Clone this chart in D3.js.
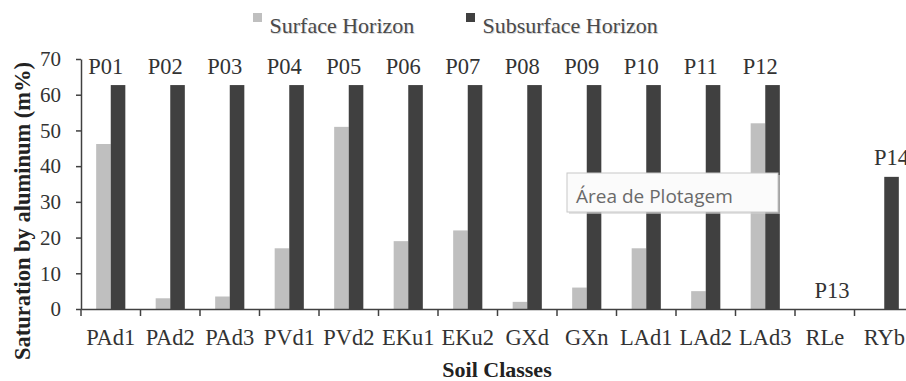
<!DOCTYPE html>
<html>
<head>
<meta charset="utf-8">
<script src="https://cdn.jsdelivr.net/npm/d3@7"></script>
<style>
  html, body { margin: 0; padding: 0; background: #fff; }
  #chart { width: 906px; height: 381px; overflow: hidden; }
</style>
</head>
<body>
<div id="chart"></div>
<script>
// 土壤类别与两层位铝饱和度 (m%)
const CLASSES = ["PAd1", "PAd2", "PAd3", "PVd1", "PVd2", "EKu1", "EKu2", "GXd", "GXn", "LAd1", "LAd2", "LAd3", "RLe", "RYb"];
const PROFILES = ["P01", "P02", "P03", "P04", "P05", "P06", "P07", "P08", "P09", "P10", "P11", "P12", "P13", "P14"];
const SURFACE = [46.2, 3, 3.5, 17, 51, 19, 22, 2, 6, 17, 5, 52, 0, 0];
const SUBSURFACE = [62.7, 62.7, 62.7, 62.7, 62.7, 62.7, 62.7, 62.7, 62.7, 62.7, 62.7, 62.7, 0, 37];
const Y_TICKS = [0, 10, 20, 30, 40, 50, 60, 70];
const SERIES = ["Surface Horizon", "Subsurface Horizon"];

const W = 906, H = 381;
const m = { l: 81, t: 59, b: 72 };
const plotRight = 914;           // 图区比窗口宽，右端被裁掉
const LIGHT = "#bfbfbf", DARK = "#404040", AXIS = "#404040";
const SERIF = "'Liberation Serif', 'Times New Roman', Tinos, serif";

const svg = d3.select("#chart").append("svg")
  .attr("width", W).attr("height", H).attr("viewBox", `0 0 ${W} ${H}`);

const x = d3.scaleBand().domain(CLASSES).range([m.l, plotRight]).paddingInner(0).paddingOuter(0);
const y = d3.scaleLinear().domain([0, 70]).range([H - m.b, m.t]);
const barW = x.bandwidth() * 0.245;

// 柱
const g = svg.append("g");
CLASSES.forEach((c, i) => {
  const cx = x(c) + x.bandwidth() / 2;
  g.append("rect").attr("x", cx - barW).attr("width", barW)
    .attr("y", y(SURFACE[i])).attr("height", y(0) - y(SURFACE[i])).attr("fill", LIGHT);
  g.append("rect").attr("x", cx).attr("width", barW)
    .attr("y", y(SUBSURFACE[i])).attr("height", y(0) - y(SUBSURFACE[i])).attr("fill", DARK);
  // 剖面编号
  const dx = SUBSURFACE[i] > 50 ? -5 : barW / 2;
  svg.append("text").style("font-family", SERIF).attr("x", cx + dx).attr("y", y(SUBSURFACE[i]) - 11.5)
    .attr("text-anchor", "middle").attr("font-size", 22.5)
    .attr("fill", "#333").text(PROFILES[i]);
});

// y 轴
const yAxis = svg.append("g").attr("transform", `translate(${m.l},0)`)
  .call(d3.axisLeft(y).tickValues(Y_TICKS).tickSize(5).tickPadding(15).tickSizeOuter(0));
yAxis.select(".domain").attr("stroke", AXIS).attr("stroke-width", 1.5);
yAxis.selectAll(".tick line").attr("stroke", AXIS).attr("stroke-width", 1.5);
yAxis.selectAll(".tick text").style("font-family", SERIF).attr("font-size", 21).attr("fill", "#333");

// x 轴
const xAxis = svg.append("g").attr("transform", `translate(0,${y(0)})`)
  .call(d3.axisBottom(x).tickSize(0).tickPadding(20).tickSizeOuter(0));
xAxis.select(".domain").attr("stroke", AXIS).attr("stroke-width", 1.5);
xAxis.selectAll(".tick text").style("font-family", SERIF).attr("font-size", 22.5).attr("fill", "#333");
// 类别分界刻度
xAxis.selectAll(".sep").data(CLASSES).enter().append("line")
  .attr("x1", d => x(d)).attr("x2", d => x(d)).attr("y1", 0).attr("y2", 7)
  .attr("stroke", AXIS).attr("stroke-width", 1.5);

// 轴标题
svg.append("text").style("font-family", SERIF)
  .attr("transform", `translate(30,${(y(0) + y(70)) / 2 + 27}) rotate(-90)`)
  .attr("text-anchor", "middle").attr("font-weight", "bold")
  .attr("font-size", 22.5).attr("fill", "#222").text("Saturation by aluminum (m%)");
svg.append("text").style("font-family", SERIF).attr("x", 497).attr("y", 377)
  .attr("text-anchor", "middle").attr("font-weight", "bold")
  .attr("font-size", 22).attr("fill", "#222").text("Soil Classes");

// 图例
const legX = [253, 466];
SERIES.forEach((s, i) => {
  svg.append("rect").attr("x", legX[i]).attr("y", 13).attr("width", 9).attr("height", 9)
    .attr("fill", i === 0 ? LIGHT : DARK);
  svg.append("text").style("font-family", SERIF).attr("x", legX[i] + 17.5).attr("y", 33.5)
    .attr("font-size", 22).attr("fill", "#d8d8d8").text(s);
  svg.append("text").style("font-family", SERIF).attr("x", legX[i] + 16.5).attr("y", 32.5)
    .attr("font-size", 22).attr("fill", "#4a4a4a").text(s);
});

// Excel 提示框
const tip = svg.append("g").attr("transform", "translate(567,173)");
tip.append("rect").attr("x", 2).attr("y", 2).attr("width", 211).attr("height", 39)
  .attr("fill", "#d0d0d0").attr("opacity", 0.6);
tip.append("rect").attr("width", 211).attr("height", 39)
  .attr("fill", "#fbfbfb").attr("stroke", "#c8c8c8").attr("stroke-width", 1);
tip.append("text").style("font-family", "Open Sans").attr("x", 9).attr("y", 30)
  .attr("font-size", 19).attr("fill", "#6a6a6a").text("Área de Plotagem");
</script>
</body>
</html>
